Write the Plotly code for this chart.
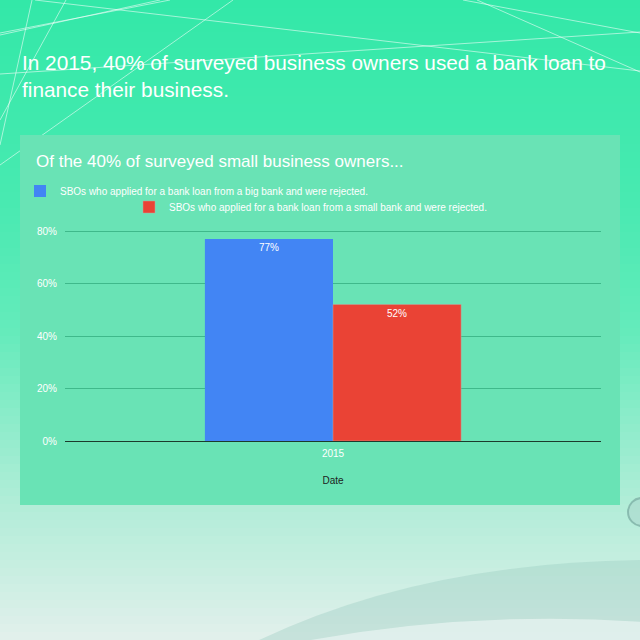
import plotly.graph_objects as go

# data
categories = ["2015"]
big_bank_rejected = [0.77]
small_bank_rejected = [0.52]
series_names = [
    "SBOs who applied for a bank loan from a big bank and were rejected.",
    "SBOs who applied for a bank loan from a small bank and were rejected.",
]
y_ticks = [0, 0.2, 0.4, 0.6, 0.8]

headline = "In 2015, 40% of surveyed business owners used a bank loan to<br>finance their business."
subtitle = "Of the 40% of surveyed small business owners..."

FONT = "Liberation Sans"
W, H = 640, 640
L, R, T, B = 65, 601, 230, 441   # plot area in pixels


def px(x):
    return (x - L) / (R - L)


def py(y):
    return (B - y) / (B - T)


def lerp_color(stops, y):
    for (y0, c0), (y1, c1) in zip(stops, stops[1:]):
        if y0 <= y <= y1:
            t = (y - y0) / (y1 - y0)
            return "rgb(%d,%d,%d)" % tuple(round(a + (b - a) * t) for a, b in zip(c0, c1))
    return "rgb(%d,%d,%d)" % stops[-1][1]


bg_stops = [
    (0, (51, 232, 168)),
    (200, (72, 234, 177)),
    (330, (100, 235, 187)),
    (505, (178, 237, 216)),
    (570, (200, 238, 225)),
    (640, (226, 240, 236)),
]

shapes = []
step = 8
for y in range(0, H, step):
    shapes.append(dict(type="rect", xref="paper", yref="paper", layer="below",
                       x0=px(-2), x1=px(W + 2), y0=py(y), y1=py(y + step + 1),
                       fillcolor=lerp_color(bg_stops, y + step / 2), line_width=0))

# decorative thin lines at the top
deco_lines = [
    ((0, 33), (170, 0)),
    ((32, 0), (0, 145)),
    ((66, 0), (0, 120)),
    ((233, 0), (0, 165)),
    ((160, 0), (0, 35)),
    ((0, 74), (640, 32)),
    ((35, 0), (640, 71)),
    ((463, 0), (640, 33)),
    ((477, 0), (640, 72)),
]
for (x0, y0), (x1, y1) in deco_lines:
    shapes.append(dict(type="line", xref="paper", yref="paper", layer="below",
                       x0=px(x0), y0=py(y0), x1=px(x1), y1=py(y1),
                       line=dict(color="rgba(255,255,255,0.55)", width=1)))

# soft shape bottom right
shapes.append(dict(type="path", xref="paper", yref="paper", layer="below",
                   path="M %f,%f Q %f,%f %f,%f L %f,%f L %f,%f Z" % (
                       px(255), py(642), px(420), py(562), px(645), py(560),
                       px(645), py(642), px(255), py(642)),
                   fillcolor="rgba(150,200,190,0.35)", line_width=0))
shapes.append(dict(type="path", xref="paper", yref="paper", layer="below",
                   path="M %f,%f Q %f,%f %f,%f L %f,%f Z" % (
                       px(300), py(642), px(470), py(610), px(645), py(622),
                       px(645), py(642)),
                   fillcolor="rgba(240,248,246,0.6)", line_width=0))
shapes.append(dict(type="circle", xref="paper", yref="paper", layer="below",
                   x0=px(628), x1=px(656), y0=py(498), y1=py(526),
                   fillcolor="rgba(170,215,205,0.6)",
                   line=dict(color="rgba(120,170,160,0.7)", width=2)))

# chart panel
shapes.append(dict(type="rect", xref="paper", yref="paper", layer="below",
                   x0=px(20), x1=px(620), y0=py(505), y1=py(135),
                   fillcolor="#69E3B5", line_width=0))

fig = go.Figure()
fig.add_trace(go.Bar(
    x=categories, y=big_bank_rejected, name=series_names[0],
    marker=dict(color="#4285F4", line_width=0),
    texttemplate="%{y:.0%}", textposition="inside", insidetextanchor="end",
    textfont=dict(color="white", size=10, family=FONT), legend="legend",
))
fig.add_trace(go.Bar(
    x=categories, y=small_bank_rejected, name=series_names[1],
    marker=dict(color="#EA4335", line=dict(color="#c9a39a", width=0.5)),
    texttemplate="%{y:.0%}", textposition="inside", insidetextanchor="end",
    textfont=dict(color="white", size=10, family=FONT), legend="legend2",
))

fig.update_layout(
    width=W, height=H, autosize=False,
    margin=dict(l=L, r=W - R, t=T, b=H - B, pad=0),
    paper_bgcolor="#33E8A8", plot_bgcolor="rgba(0,0,0,0)",
    font=dict(family=FONT, color="white", size=10),
    barmode="group", bargap=0.522, bargroupgap=0,
    shapes=shapes,
    showlegend=True,
    legend=dict(x=px(20), y=py(191), xanchor="left", yanchor="middle",
                bgcolor="rgba(0,0,0,0)", font=dict(size=10, color="white"),
                itemclick=False),
    legend2=dict(x=px(129), y=py(207), xanchor="left", yanchor="middle",
                 bgcolor="rgba(0,0,0,0)", font=dict(size=10, color="white"),
                 itemclick=False),
    annotations=[
        dict(text=headline, x=px(20), y=py(75.5), xref="paper", yref="paper",
             xanchor="left", yanchor="middle", align="left", showarrow=False,
             font=dict(size=20.8, color="white", family=FONT)),
        dict(text=subtitle, x=px(34), y=py(161), xref="paper", yref="paper",
             xanchor="left", yanchor="middle", align="left", showarrow=False,
             font=dict(size=17, color="white", family=FONT)),
    ],
    hovermode=False,
)
fig.update_xaxes(type="category", range=[-0.5, 0.5], showgrid=False,
                 showline=True, linecolor="#1b3b2c", linewidth=1,
                 tickfont=dict(size=10, color="white"), ticklabelstandoff=3,
                 title=dict(text="Date", standoff=18,
                            font=dict(size=10, color="#1d1d1d")))
fig.update_yaxes(range=[0, 0.804], tickvals=y_ticks, tickformat=".0%",
                 showgrid=True, gridcolor="#3FB98B", gridwidth=1,
                 zeroline=False, showline=False, ticklabelstandoff=7,
                 tickfont=dict(size=10, color="white"))

fig.write_html("out.html", config={"displayModeBar": False},
               post_script="document.body.style.margin='0';")
